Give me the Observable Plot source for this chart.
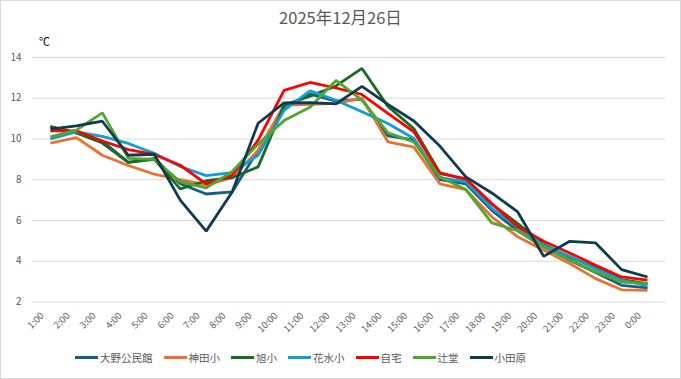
<!DOCTYPE html>
<html>
<head>
<meta charset="utf-8">
<script src="https://cdn.jsdelivr.net/npm/d3@7"></script>
<script src="https://cdn.jsdelivr.net/npm/@observablehq/plot@0.6"></script>
<style>
  html, body { margin: 0; padding: 0; background: #fff; }
  #wrap { position: relative; width: 681px; height: 379px; box-sizing: border-box; border: 1px solid #d9d9d9; font-family: "Noto Sans CJK JP", "Noto Sans", sans-serif; overflow: hidden; }
  #title { position: absolute; left: 0; top: 4px; width: 100%; text-align: center; font-size: 16.5px; color: #595959; }
  #unit { position: absolute; left: 38px; top: 32px; font-size: 11px; color: #000; }
  #chart { position: absolute; left: -1px; top: -1px; }
  #legend { position: absolute; left: 74px; top: 349px; display: flex; gap: 11px; font-size: 10.5px; color: #595959; }
  .item { display: flex; align-items: center; gap: 2px; }
  .sw { width: 23px; height: 3px; }
</style>
</head>
<body>
<div id="wrap">
  <div id="chart"></div>
  <div id="title">2025年12月26日</div>
  <div id="unit">℃</div>
  <div id="legend"></div>
</div>
<script>
const hours = ["1:00","2:00","3:00","4:00","5:00","6:00","7:00","8:00","9:00","10:00","11:00","12:00",
               "13:00","14:00","15:00","16:00","17:00","18:00","19:00","20:00","21:00","22:00","23:00","0:00"];
const seriesNames = ["大野公民館","神田小","旭小","花水小","自宅","辻堂","小田原"];
const seriesColors = ["#156082","#E97132","#196B24","#0F9ED5","#FF0000","#4EA72E","#0f3b50"];
const yTicks = [2,4,6,8,10,12,14];

const oono    = [10.6,10.3,9.9,8.85,9.05,7.8,7.3,7.4,9.45,11.5,12.2,11.85,11.95,10.15,9.95,8.0,7.8,6.5,5.5,4.7,4.05,3.45,2.82,2.7];
const kanda   = [9.8,10.07,9.2,8.7,8.27,8.0,7.75,8.1,9.45,11.66,11.7,11.75,12.0,9.86,9.6,7.8,7.52,6.18,5.2,4.54,3.89,3.15,2.6,2.57];
const asahi   = [10.6,10.3,9.8,8.85,9.0,7.55,7.95,8.1,8.63,11.66,12.1,12.6,13.46,11.6,10.5,8.35,8.0,6.8,5.85,4.83,4.2,3.72,3.1,2.9];
const hanamizu= [10.0,10.35,10.13,9.78,9.3,8.65,8.2,8.35,9.2,11.4,12.36,11.9,11.33,10.76,10.02,8.1,7.9,6.6,5.65,4.79,4.25,3.64,3.07,2.8];
const jitaku  = [10.4,10.4,9.9,9.48,9.24,8.71,7.8,8.22,9.94,12.38,12.77,12.5,12.18,11.25,10.35,8.3,8.05,6.83,5.7,4.98,4.41,3.8,3.23,3.07];
const tsujido = [10.1,10.43,11.28,9.05,9.0,7.9,7.6,8.4,9.75,10.9,11.56,12.87,11.9,10.3,9.86,8.14,7.52,5.88,5.5,4.7,4.08,3.48,2.98,2.92];
const odawara = [10.48,10.64,10.87,9.2,9.25,7.0,5.48,7.4,10.77,11.77,11.78,11.72,12.58,11.7,10.88,9.65,8.14,7.35,6.42,4.24,4.98,4.9,3.59,3.23];

const seriesValues = [oono, kanda, asahi, hanamizu, jitaku, tsujido, odawara];
const rows = [];
seriesNames.forEach((name, si) => {
  seriesValues[si].forEach((v, i) => rows.push({series: name, hour: hours[i], value: v}));
});

const chart = Plot.plot({
  width: 681,
  height: 379,
  marginLeft: 32,
  marginRight: 15,
  marginTop: 57,
  marginBottom: 77,
  style: {fontFamily: '"Noto Sans CJK JP", "Noto Sans", sans-serif', fontSize: "9.5px", color: "#595959", background: "transparent"},
  x: {type: "point", domain: hours, padding: 0.5, label: null},
  y: {domain: [2, 14], ticks: yTicks, label: null},
  color: {domain: seriesNames, range: seriesColors},
  marks: [
    Plot.ruleY(yTicks, {stroke: "#d9d9d9", strokeWidth: 1}),
    Plot.axisY({ticks: yTicks, tickSize: 0, tickPadding: 11, label: null, fill: "#595959", fontSize: 10}),
    Plot.axisX({tickSize: 0, tickRotate: -45, tickPadding: 9, dx: -8, dy: 3, label: null, fill: "#595959", fontSize: 9.5}),
    Plot.line(rows, {x: "hour", y: "value", z: "series", stroke: "series", strokeWidth: 2.8, strokeLinejoin: "miter", strokeLinecap: "butt"})
  ]
});
document.getElementById("chart").appendChild(chart);

const legend = document.getElementById("legend");
seriesNames.forEach((name, i) => {
  const it = document.createElement("div");
  it.className = "item";
  const sw = document.createElement("div");
  sw.className = "sw";
  sw.style.background = seriesColors[i];
  const t = document.createElement("span");
  t.textContent = name;
  it.appendChild(sw); it.appendChild(t);
  legend.appendChild(it);
});
</script>
</body>
</html>
